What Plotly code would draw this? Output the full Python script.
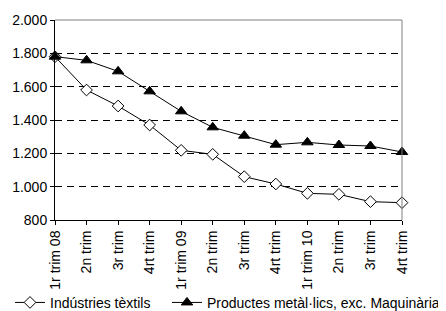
import plotly.graph_objects as go

categories = ["1r trim 08", "2n trim", "3r trim", "4rt trim",
              "1r trim 09", "2n trim", "3r trim", "4rt trim",
              "1r trim 10", "2n trim", "3r trim", "4rt trim"]
textils = [1780, 1580, 1484, 1370, 1218, 1194, 1060, 1016, 960, 954, 910, 904]
metallics = [1780, 1758, 1692, 1572, 1452, 1356, 1306, 1252, 1266, 1250, 1244, 1208]
y_ticks = [800, 1000, 1200, 1400, 1600, 1800, 2000]

x = list(range(len(categories)))
FONT = "Liberation Sans, Arial, sans-serif"
FS = 14

fig = go.Figure()
fig.add_trace(go.Scatter(
    x=x, y=textils, name="Indústries tèxtils", mode="lines+markers",
    line=dict(color="black", width=1),
    marker=dict(symbol="diamond", size=9, color="white", line=dict(color="black", width=1)),
    cliponaxis=False, legend="legend"))
fig.add_trace(go.Scatter(
    x=x, y=metallics, name="Productes metàl·lics, exc. Maquinària", mode="lines+markers",
    line=dict(color="black", width=1),
    marker=dict(symbol="triangle-up", size=10, color="black", line=dict(color="black", width=1)),
    cliponaxis=False, legend="legend2"))

# plot area border (top and right) in gray
fig.add_shape(type="line", xref="paper", yref="paper", x0=0, x1=1, y0=1, y1=1,
              line=dict(color="#808080", width=1))
fig.add_shape(type="line", xref="paper", yref="paper", x0=1, x1=1, y0=0, y1=1,
              line=dict(color="#808080", width=1))

legend_common = dict(orientation="h", xref="container", xanchor="left",
                     yref="container", y=0.052, yanchor="middle",
                     font=dict(family=FONT, size=FS, color="black"),
                     itemwidth=30, bgcolor="rgba(0,0,0,0)")

fig.update_layout(
    width=446, height=311,
    margin=dict(l=47, r=52, t=12, b=99, autoexpand=False),
    paper_bgcolor="white", plot_bgcolor="white",
    font=dict(family=FONT, size=FS, color="black"),
    separators=",.",
    showlegend=True,
    legend=dict(x=0.0045, **legend_common),
    legend2=dict(x=0.3565, **legend_common),
    xaxis=dict(range=[0, 11], tickmode="array", tickvals=x, ticktext=categories,
               tickangle=-90, showgrid=False, zeroline=False,
               showline=True, linecolor="black", linewidth=1,
               ticks="outside", ticklen=4, tickcolor="black",
               tickfont=dict(family=FONT, size=FS)),
    yaxis=dict(range=[800, 2000], tickmode="array", tickvals=y_ticks,
               tickformat=",d", showgrid=True, gridcolor="black", gridwidth=1,
               griddash="7px,5px", zeroline=False,
               showline=True, linecolor="black", linewidth=1,
               ticks="outside", ticklen=4, tickcolor="black",
               tickfont=dict(family=FONT, size=FS)),
)

fig.write_html("out.html")
